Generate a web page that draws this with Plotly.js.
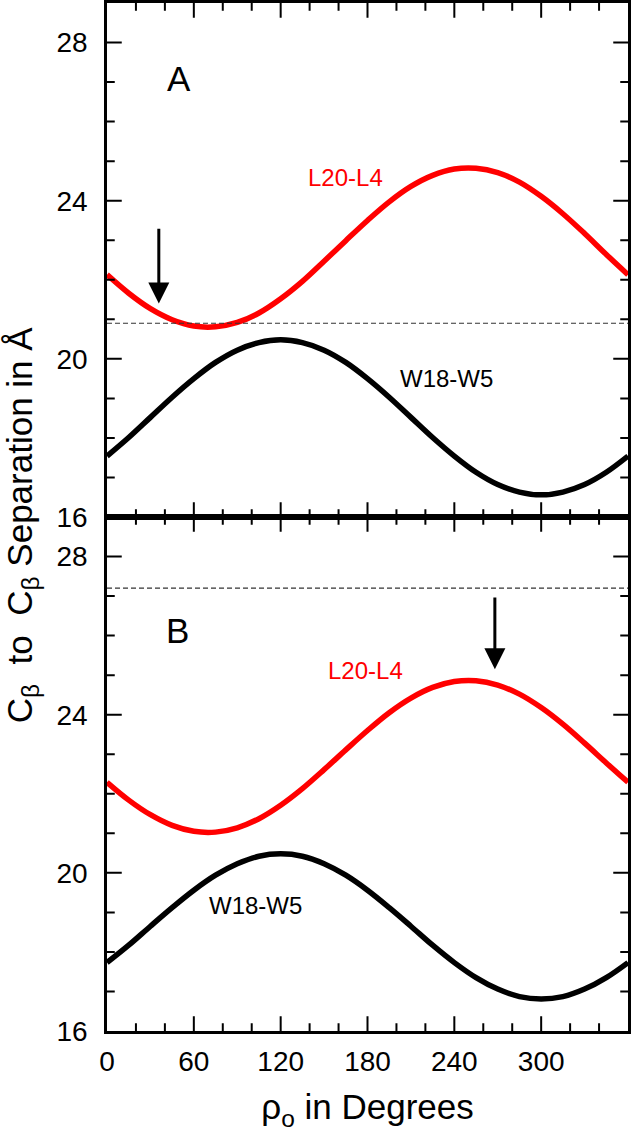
<!DOCTYPE html>
<html>
<head>
<meta charset="utf-8">
<script src="https://cdn.plot.ly/plotly-3.0.1.min.js"></script>
<style>
html,body{margin:0;padding:0;background:#fff;}
#chart{width:632px;height:1140px;}
.js-plotly-plot .plotly path.ticks{shape-rendering:geometricPrecision !important;}
</style>
</head>
<body>
<div id="chart"></div>
<script>
// ---- data ----
const angles = [0,15,30,45,60,75,90,105,120,135,150,165,180,195,210,225,240,255,270,285,300,315,330,345,360];

// Panel A
const redA   = [22.13,21.66,21.27,20.99,20.83,20.81,20.92,21.16,21.52,21.96,22.47,22.99,23.50,23.97,24.36,24.64,24.80,24.82,24.71,24.47,24.11,23.67,23.17,22.64,22.13];
const blackA = [17.54,18.01,18.52,19.03,19.50,19.91,20.22,20.41,20.48,20.41,20.22,19.91,19.50,19.03,18.52,18.01,17.54,17.13,16.82,16.63,16.56,16.63,16.82,17.13,17.54];

// Panel B
const redB   = [22.29,21.84,21.47,21.20,21.05,21.03,21.14,21.37,21.71,22.13,22.61,23.11,23.60,24.05,24.42,24.69,24.84,24.86,24.75,24.52,24.18,23.76,23.28,22.78,22.29];
const blackB = [17.73,18.17,18.65,19.12,19.56,19.94,20.23,20.42,20.48,20.42,20.23,19.94,19.56,19.12,18.65,18.17,17.73,17.35,17.06,16.87,16.81,16.87,17.06,17.35,17.73];

// reference (dashed) levels
const dashA = 20.9;
const dashB = 27.2;

// arrows: [angle, tail value, tip value]
const arrowA = [35.8, 23.33, 21.40];
const arrowB = [268, 27.0, 25.15];

// ticks
const xTickStep = 60, xMinorStep = 20;
const yTickStep = 4,  yMinorStep = 1;
const xRange = [0,359.999];
const yRange = [16,29];

const seriesNames = ['L20-L4','W18-W5'];
const panelLabels = ['A','B'];

// ---- styling ----
const RED = '#ff0000';
const FONT = 'Liberation Sans, Arial, sans-serif';

function line(x, y, color, xa, ya, name){
  return {x:x, y:y, type:'scatter', mode:'lines', name:name,
    line:{color:color, width:5.5, shape:'spline', smoothing:1},
    xaxis:xa, yaxis:ya, hoverinfo:'skip', showlegend:false};
}

const traces = [
  line(angles, redA, RED, 'x', 'y', seriesNames[0]),
  line(angles, blackA, '#000', 'x', 'y', seriesNames[1]),
  line(angles, redB, RED, 'x2', 'y2', seriesNames[0]),
  line(angles, blackB, '#000', 'x2', 'y2', seriesNames[1])
];

function xAxis(anchor, showLabels){
  return {
    anchor:anchor, domain:[0,1], range:xRange, showgrid:false, zeroline:false,
    showline:true, linecolor:'#000', linewidth:2.5, mirror:'ticks',
    ticks:'inside', ticklen:15, tickwidth:2, tickcolor:'#000',
    tickmode:'linear', tick0:0, dtick:xTickStep,
    showticklabels:showLabels, ticklabelstandoff:4,
    tickfont:{family:FONT, size:28, color:'#000'},
    fixedrange:true,
    minor:{dtick:xMinorStep, tick0:0, ticks:'inside', ticklen:8, tickwidth:2, tickcolor:'#000'}
  };
}
function yAxis(anchor, domain){
  return {
    anchor:anchor, domain:domain, range:yRange, showgrid:false, zeroline:false,
    showline:true, linecolor:'#000', linewidth:2.5, mirror:'ticks',
    ticks:'inside', ticklen:15, tickwidth:2, tickcolor:'#000',
    tickmode:'linear', tick0:16, dtick:yTickStep,
    ticklabelstandoff:11,
    tickfont:{family:FONT, size:28, color:'#000'},
    fixedrange:true,
    minor:{dtick:yMinorStep, tick0:16, ticks:'inside', ticklen:8, tickwidth:2, tickcolor:'#000'}
  };
}

const xa2 = xAxis('y2', true);
xa2.title = {text:'ρ<sub>o</sub> in Degrees', font:{family:FONT, size:35, color:'#000'}, standoff:19};

function arrowAnn(a, xr, yr){
  return {x:a[0], y:a[2], ax:a[0], ay:a[1], xref:xr, yref:yr, axref:xr, ayref:yr,
    text:'', showarrow:true, arrowhead:2, arrowsize:1.4, arrowwidth:3, arrowcolor:'#000', standoff:0, startstandoff:0};
}
function textAnn(txt, x, y, xr, yr, size, color){
  return {x:x, y:y, xref:xr, yref:yr, text:txt, showarrow:false,
    font:{family:FONT, size:size, color:color}, xanchor:'center', yanchor:'middle'};
}

const layout = {
  width:632, height:1140,
  margin:{l:107, r:4, t:3, b:109},
  paper_bgcolor:'#fff', plot_bgcolor:'rgba(0,0,0,0)',
  showlegend:false, dragmode:false, hovermode:false,
  xaxis: xAxis('y', false),
  yaxis: yAxis('x', [0.5,1]),
  xaxis2: xa2,
  yaxis2: yAxis('x2', [0,0.5]),
  shapes:[
    {type:'line', xref:'x', yref:'y', x0:0, x1:360, y0:dashA, y1:dashA, line:{color:'#333', width:1.2, dash:'5px,3px'}},
    {type:'line', xref:'x2', yref:'y2', x0:0, x1:360, y0:dashB, y1:dashB, line:{color:'#333', width:1.2, dash:'5px,3px'}}
  ],
  annotations:[
    textAnn(panelLabels[0], 50, 27.08, 'x', 'y', 35, '#000'),
    textAnn(seriesNames[0], 164.7, 24.59, 'x', 'y', 24, RED),
    textAnn(seriesNames[1], 234.4, 19.5, 'x', 'y', 24, '#000'),
    arrowAnn(arrowA, 'x', 'y'),
    textAnn(panelLabels[1], 48.8, 26.14, 'x2', 'y2', 35, '#000'),
    textAnn(seriesNames[0], 178.6, 25.12, 'x2', 'y2', 24, RED),
    textAnn(seriesNames[1], 102.4, 19.18, 'x2', 'y2', 24, '#000'),
    arrowAnn(arrowB, 'x2', 'y2'),
    {xref:'paper', yref:'paper', x:-0.1631, y:0.492, xanchor:'center', yanchor:'middle',
     textangle:-90, showarrow:false,
     text:'C<sub>β</sub>\u00a0 to \u00a0C<sub>β</sub> Separation in Å',
     font:{family:FONT, size:35, color:'#000'}}
  ]
};

Plotly.newPlot('chart', traces, layout, {displayModeBar:false});
</script>
</body>
</html>
